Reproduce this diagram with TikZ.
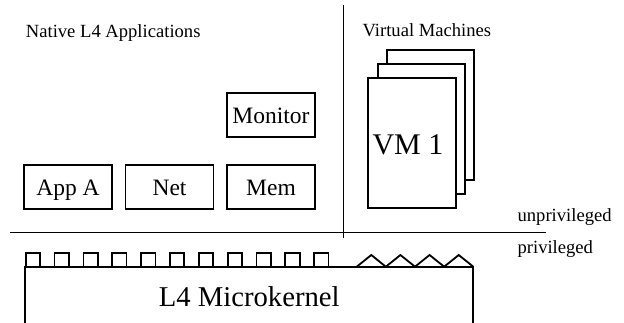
\documentclass[tikz,border=0pt]{standalone}
\usepackage{fontspec}
\setmainfont{Liberation Serif}
\begin{document}
\begin{tikzpicture}[x=0.5pt,y=-0.5pt,line width=0.9pt,
  appbox/.style={draw,fill=white,minimum width=44pt,minimum height=22pt,inner sep=0pt,
    font=\fontsize{11.75}{13}\selectfont,text height=0.8em,text depth=0pt},
  vmbox/.style={draw,fill=white,minimum width=43.7pt,minimum height=65pt,inner sep=0pt},
  smalllabel/.style={anchor=base west,inner sep=0pt,font=\fontsize{9.3}{11}\selectfont}]
\useasboundingbox (0,0) rectangle (624,322);

% separators
\coordinate (vtop) at (343.5,5);
\coordinate (vbot) at (343.5,237.7);
\coordinate (hleft) at (10,232.5);
\coordinate (hright) at (545.7,232.5);
\draw (vtop) -- (vbot);
\draw (hleft) -- (hright);

% labels
\node[smalllabel] (native) at (25,37.3) {Native L4 Applications};
\node[smalllabel] (virtual) at (361.7,36.7) {Virtual Machines};
\node[smalllabel] (unpriv) at (516.7,221.7) {unprivileged};
\node[smalllabel] (priv) at (516.7,253) {privileged};

% native apps
\node[appbox] (appa) at (68,187) {App A};
\node[appbox] (net) at (169.5,187) {Net};
\node[appbox] (mem) at (271,187) {Mem};
\node[appbox] (monitor) at (271,115) {Monitor};

% virtual machines
\node[vmbox] (vmc) at (430.35,115) {};
\node[vmbox] (vmb) at (421.35,129.15) {};
\node[vmbox] (vma) at (412,143.3) {};
\node[anchor=base,inner sep=0pt,font=\fontsize{15}{17}\selectfont] (vmlabel) at (408,154) {VM 1};

% kernel
\coordinate (kbl) at (25,330);
\coordinate (ktl) at (25,266.7);
\coordinate (ktr) at (473.3,266.7);
\coordinate (kbr) at (473.3,330);
\draw (kbl) -- (ktl) -- (ktr) -- (kbr);
\node[anchor=base,inner sep=0pt,font=\fontsize{14.35}{16}\selectfont] (kernel) at (249.2,306) {L4 Microkernel};

% square teeth
\foreach \i in {0,...,10}{
  \draw ({25.7+\i*28.85},266.7) -- ({25.7+\i*28.85},252.7) -- ({40+\i*28.85},252.7) -- ({40+\i*28.85},266.7);
}
% zigzag
\draw (356.7,266.7) \foreach \i in {0,...,3}{ -- ({356.7+\i*29.15+14.575},255) -- ({356.7+(\i+1)*29.15},266.7)};
\end{tikzpicture}
\end{document}
